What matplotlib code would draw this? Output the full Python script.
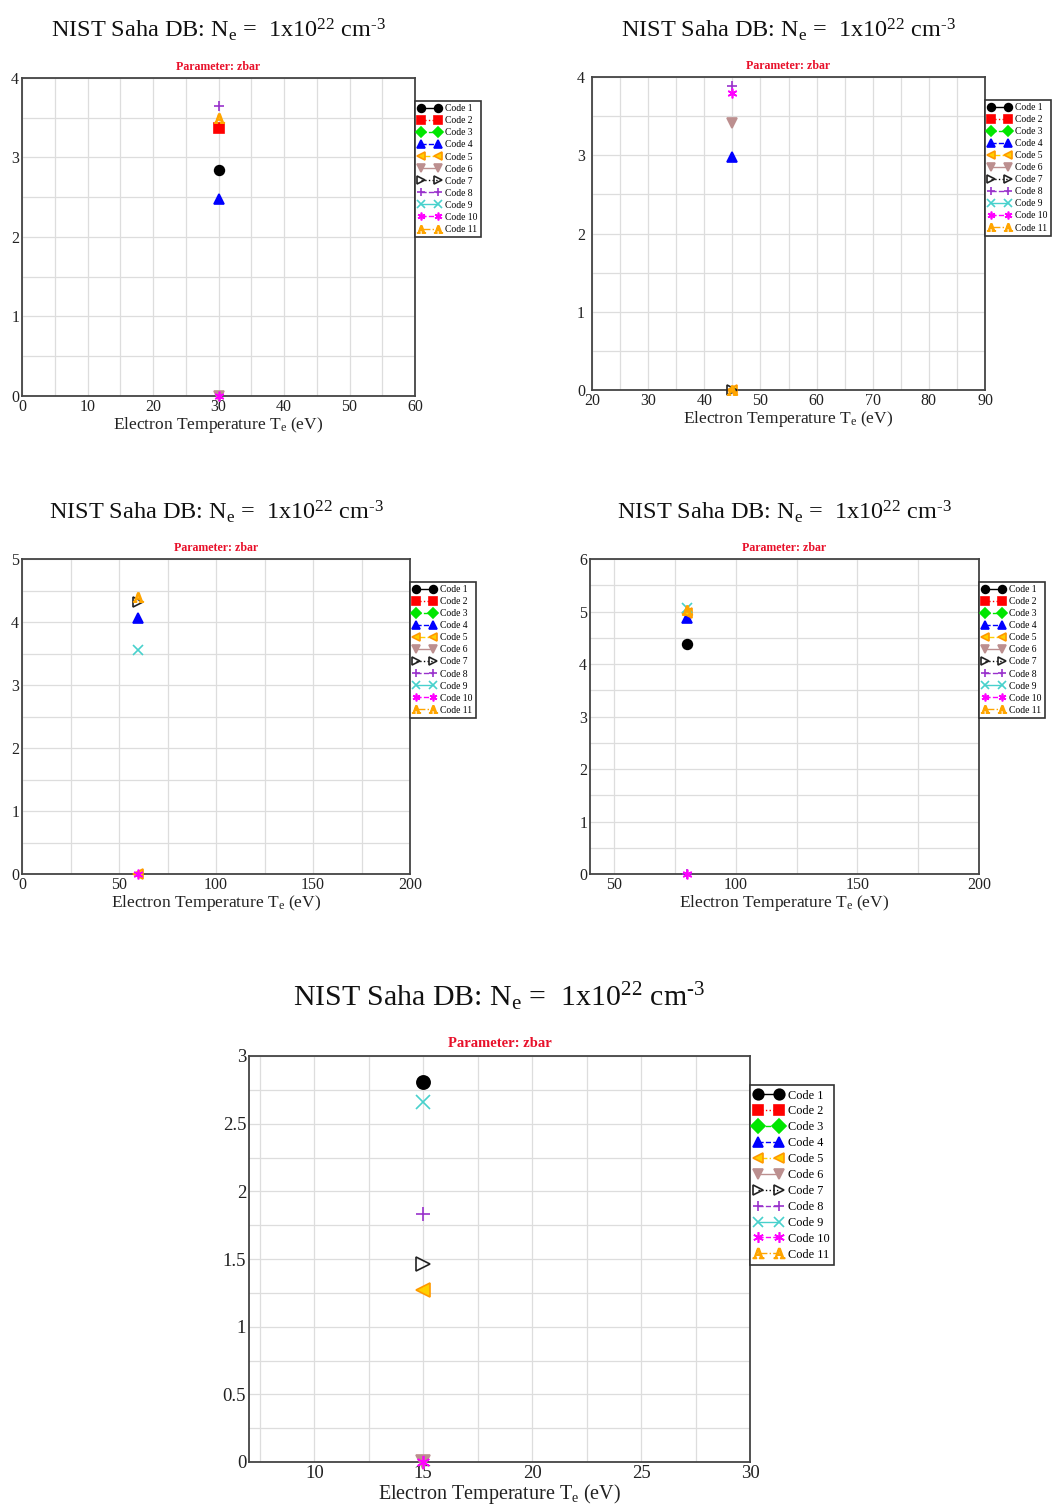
import numpy as np
import matplotlib.pyplot as plt
from matplotlib.ticker import MultipleLocator

plt.rcParams['font.family'] = ['Liberation Serif', 'DejaVu Serif']
plt.rcParams['mathtext.fontset'] = 'custom'
plt.rcParams['mathtext.rm'] = 'Liberation Serif'
plt.rcParams['mathtext.it'] = 'Liberation Serif:italic'

W, H = 1054, 1510
nan = np.nan

codes = ['Code 1', 'Code 2', 'Code 3', 'Code 4', 'Code 5', 'Code 6',
         'Code 7', 'Code 8', 'Code 9', 'Code 10', 'Code 11']
code_colors = ['black', 'red', '#00e600', 'blue', '#ffd000', '#bc8f8f',
               'black', '#9932cc', '#48d1cc', '#ff00ff', '#ffa500']
code_edges = ['black', 'red', '#00e600', 'blue', '#ff9900', '#bc8f8f',
              '#222222', '#9932cc', '#48d1cc', '#ff00ff', '#ffa500']
code_markers = ['o', 's', 'D', '^', '<', 'v', '>', '+', 'x', (6, 2, 0), r'$\mathrm{A}$']
code_styles = ['-', ':', '--', '--', '-.', '-', ':', '--', '-', '--', '-.']

# zbar per code at the single temperature of each panel (nan = not shown)
p1_te = 30
p1_zbar = [2.84, 3.37, nan, 2.48, nan, 0.0, nan, 3.65, nan, 0.0, 3.50]
p2_te = 45
p2_zbar = [nan, nan, nan, 2.98, 0.0, 3.41, 0.0, 3.89, nan, 3.80, 0.0]
p3_te = 60
p3_zbar = [nan, nan, nan, 4.06, 0.0, nan, 4.32, nan, 3.56, 0.0, 4.39]
p4_te = 80
p4_zbar = [4.38, nan, nan, 4.88, 4.97, nan, nan, 0.0, 5.07, 0.0, 5.02]
p5_te = 15
p5_zbar = [2.81, nan, nan, nan, 1.27, 0.0, 1.46, 1.83, 2.66, 0.0, nan]

small = dict(tfs=17.5, lfs=6.9, pfs=8.6, ms=7, tkfs=11.5)
big = dict(tfs=21.5, lfs=8.8, pfs=10.5, ms=9.5, tkfs=13.5)

panels = [
    dict(te=p1_te, zbar=p1_zbar, box=(22, 78, 415, 396), xlim=(0, 60), xmaj=10, xmin=5,
         ylim=(0, 4), ymaj=1, ymin=0.5, title_y=30, ypad=2, **small),
    dict(te=p2_te, zbar=p2_zbar, box=(592, 77, 985, 390), xlim=(20, 90), xmaj=10, xmin=5,
         ylim=(0, 4), ymaj=1, ymin=0.5, title_y=30, ypad=5, **small),
    dict(te=p3_te, zbar=p3_zbar, box=(22, 559, 410, 874), xlim=(0, 200), xmaj=50, xmin=25,
         ylim=(0, 5), ymaj=1, ymin=0.5, title_y=512, ypad=2, **small),
    dict(te=p4_te, zbar=p4_zbar, box=(590, 559, 979, 874), xlim=(40, 200), xmaj=50, xmin=25,
         ylim=(0, 6), ymaj=1, ymin=0.5, title_y=512, ypad=2, **small),
    dict(te=p5_te, zbar=p5_zbar, box=(249, 1056, 750, 1462), xlim=(7, 30), xmaj=5, xmin=2.5,
         ylim=(0, 3), ymaj=0.5, ymin=0.25, title_y=997, ypad=2, **big),
]

title = 'NIST Saha DB: N$_{\\mathrm{e}}$ =  1x10$^{22}$ cm$^{\u20103}$'

fig = plt.figure(figsize=(W / 100, H / 100), dpi=100)

for p in panels:
    l, t, r, b = p['box']
    ax = fig.add_axes([l / W, 1 - b / H, (r - l) / W, (b - t) / H])
    for i, code in enumerate(codes):
        z = p['zbar'][i]
        xs = [p['te']] if not np.isnan(z) else []
        ys = [z] if not np.isnan(z) else []
        face = 'none' if i == 6 else code_colors[i]
        ax.plot(xs, ys, linestyle=code_styles[i], color=code_colors[i], lw=1,
                marker=code_markers[i], markersize=p['ms'], markerfacecolor=face,
                markeredgecolor=code_edges[i], markeredgewidth=1.2, label=code,
                clip_on=False, zorder=5)
    ax.set_xlim(*p['xlim'])
    ax.set_ylim(*p['ylim'])
    ax.xaxis.set_major_locator(MultipleLocator(p['xmaj']))
    ax.xaxis.set_minor_locator(MultipleLocator(p['xmin']))
    ax.yaxis.set_major_locator(MultipleLocator(p['ymaj']))
    ax.yaxis.set_minor_locator(MultipleLocator(p['ymin']))
    ax.yaxis.set_major_formatter(lambda v, pos: f'{v:g}')
    ax.grid(True, which='both', color='#dddddd', lw=0.9)
    ax.set_axisbelow(True)
    ax.tick_params(which='both', length=0, labelsize=p['tkfs'], colors='#222222', pad=2)
    ax.tick_params(axis='y', pad=p['ypad'])
    for s in ax.spines.values():
        s.set_color('#444444')
        s.set_linewidth(1.3)
    ax.set_xlabel(r'Electron Temperature T$_{\mathrm{e}}$ (eV)', fontsize=p['tkfs'] + 1,
                  color='#222222', labelpad=0)
    ax.text(0.5, 1.015, 'Parameter: zbar', transform=ax.transAxes, ha='center', va='bottom',
            color='#e8102a', fontsize=p['pfs'], fontweight='bold')
    fig.text(((l + r) / 2) / W, 1 - p['title_y'] / H, title,
             ha='center', va='center', fontsize=p['tfs'], color='#111111')
    leg = ax.legend(loc='upper left', bbox_to_anchor=(1.0, 0.928), borderaxespad=0,
                    fontsize=p['lfs'], numpoints=2, handlelength=2.3, handletextpad=0.5,
                    labelspacing=0.32, borderpad=0.35, fancybox=False, framealpha=1,
                    markerscale=0.8)
    leg.get_frame().set_edgecolor('#333333')
    leg.get_frame().set_linewidth(1.2)

fig.savefig('out.png', dpi=100)
